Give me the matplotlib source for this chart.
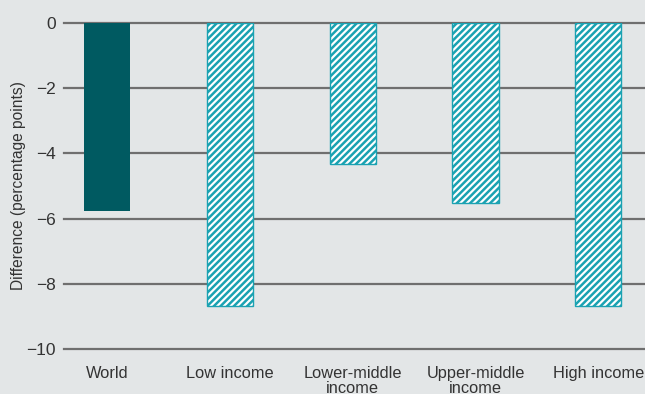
import matplotlib.pyplot as plt
import numpy as np

categories = ["World", "Low income", "Lower-middle\nincome", "Upper-middle\nincome", "High income"]
values = [-5.77, -8.68, -4.33, -5.52, -8.68]
yticks = [0, -2, -4, -6, -8, -10]


def main():
    plt.rcParams.update(
        {
            "font.family": ["Liberation Sans", "DejaVu Sans"],
            "hatch.linewidth": 1.8,
            "hatch.color": "#1aa2b2",
        }
    )

    fig = plt.figure(figsize=(6.45, 3.94), dpi=100, facecolor="#e3e6e7")
    ax = fig.add_axes([64 / 645, 1 - 349 / 394, 1 - 64 / 645, 326 / 394])
    ax.set_facecolor("#e3e6e7")

    x = np.arange(len(categories))
    for yt in yticks:
        ax.axhline(yt, color="#6f6f6f", linewidth=1.6, zorder=1, clip_on=False)

    ax.bar(x[0], values[0], width=0.375, color="#005a61", zorder=2)
    ax.bar(
        x[1:],
        values[1:],
        width=0.375,
        color="white",
        edgecolor="#1aa2b2",
        hatch="/////",
        linewidth=1.0,
        zorder=2,
    )

    ax.set_xlim(-0.35, 4.38)
    ax.set_ylim(-10, 0)
    ax.set_yticks(yticks)
    ax.set_yticklabels(["0" if v == 0 else "\u2212" + str(abs(v)) for v in yticks])
    ax.set_xticks(x)
    ax.set_xticklabels(categories, linespacing=1.05)
    ax.tick_params(axis="y", length=0, pad=6, labelsize=12.5, labelcolor="#333333")
    ax.tick_params(axis="x", length=0, pad=12, labelsize=11.8, labelcolor="#333333")
    for s in ax.spines.values():
        s.set_visible(False)
    ax.set_ylabel("Difference (percentage points)", fontsize=11.2, color="#333333", labelpad=0)

    fig.savefig("out.png", dpi=100, facecolor=fig.get_facecolor())


if __name__ == "__main__":
    main()
